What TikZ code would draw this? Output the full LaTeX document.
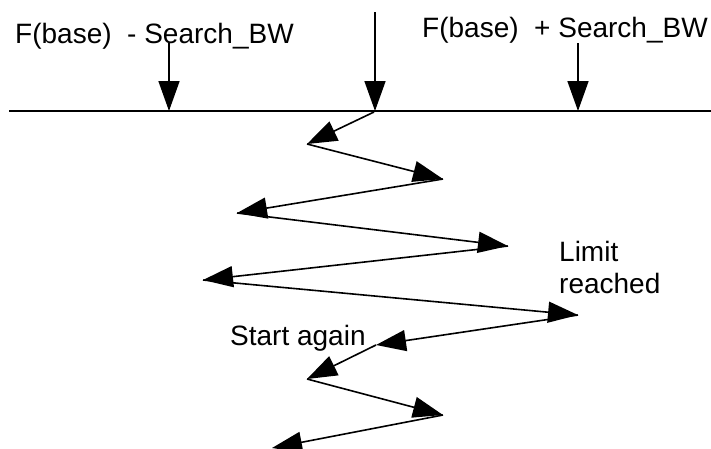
\documentclass[tikz,border=0pt]{standalone}
\usepackage{fontspec}
\setmainfont{Liberation Sans}
\usetikzlibrary{arrows.meta}
\tikzset{
  lbl/.style={inner sep=0pt, anchor=base west, font=\fontsize{28}{32}\selectfont, align=left},
  arr/.style={line width=1.6pt, -{Triangle[length=30pt, width=21pt]}},
  baseline/.style={line width=1.6pt}
}
\begin{document}
\begin{tikzpicture}[x=1pt, y=-1pt]
\useasboundingbox (0,0) rectangle (711,448);
% axis
\coordinate (la) at (9,111);
\coordinate (lb) at (711,111);
\draw[baseline] (la) -- (lb);
% labels
\node[lbl] (minus) at (15,43) {F(base)~~- Search\_BW};
\node[lbl] (plus) at (422,37) {F(base)~~+ Search\_BW};
\node[lbl] (limit) at (559,293) {Limit\\reached};
\node[lbl] (start) at (230,345) {Start again};
% vertical arrows
\coordinate (a1) at (169,43);  \coordinate (b1) at (169,111);
\coordinate (a2) at (375,12);  \coordinate (b2) at (375,111);
\coordinate (a3) at (578,43);  \coordinate (b3) at (578,111);
\draw[arr] (a1) -- (b1);
\draw[arr] (a2) -- (b2);
\draw[arr] (a3) -- (b3);
% zigzag
\coordinate (p0) at (374,112);
\coordinate (p1) at (307,144);
\coordinate (p2) at (443,179);
\coordinate (p3) at (237,213);
\coordinate (p4) at (508,246);
\coordinate (p5) at (203,280);
\coordinate (p6) at (578,315);
\coordinate (p7) at (376,345);
\coordinate (p8) at (307,379);
\coordinate (p9) at (443,415);
\coordinate (p10) at (272,448);
\foreach \i/\j in {0/1,1/2,2/3,3/4,4/5,5/6,6/7,7/8,8/9,9/10}
  \draw[arr] (p\i) -- (p\j);
\end{tikzpicture}
\end{document}
